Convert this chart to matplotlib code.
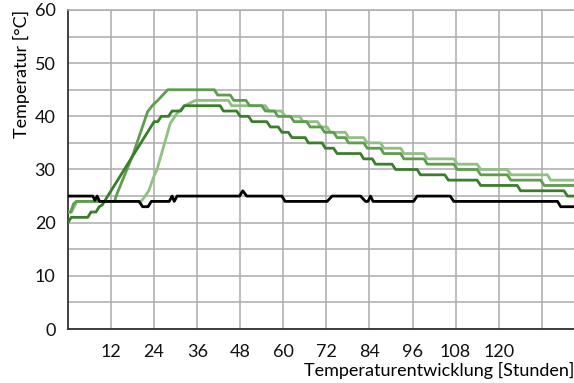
import matplotlib
matplotlib.use("Agg")
import matplotlib.pyplot as plt

plt.rcParams['font.family'] = ['Lato', 'DejaVu Sans']

# Ambient (black)
amb_h = [0, 6.9, 7.5, 8.1, 8.8, 19.8, 20.8, 22.3, 23.2, 28.2, 29.0, 29.6, 30.4, 47.8, 48.7, 49.8,
         59.6, 60.5, 72.2, 73.6, 81.5, 82.9, 83.6, 84.3, 85.0, 96.3, 97.3, 106.5, 107.5, 136.4, 137.3, 141]
amb_t = [25, 25, 24.2, 25, 24, 24, 23, 23, 24, 24, 25, 24, 25, 25, 26, 25,
         25, 24, 24, 25, 25, 24, 24, 25, 24, 24, 25, 25, 24, 24, 23, 23]

# Dark green
dark_h = [0, 0.9, 5.5, 6.4, 7.8, 8.7, 9.5, 24.0, 25.0, 26.0, 28.0, 29.0, 31.4, 32.4, 42.4, 43.3, 47.0,
          48.0, 50.3, 51.3, 55.4, 56.4, 58.6, 59.6, 61.4, 62.4, 66.1, 67.0, 70.8, 71.7, 74.0, 75.0,
          81.5, 82.4, 84.8, 85.7, 90.3, 91.3, 97.3, 98.2, 105.0, 106.0, 114.0, 115.0, 125.2, 126.1,
          138.2, 139.2, 141]
dark_t = [20, 21, 21, 22, 22, 23, 23.3, 39, 39, 40, 40, 41, 41, 42, 42, 41, 41,
          40, 40, 39, 39, 38, 38, 37, 37, 36, 36, 35, 35, 34, 34, 33,
          33, 32, 32, 31, 31, 30, 30, 29, 29, 28, 28, 27, 27, 26,
          26, 25, 25]

# Medium green
med_h = [0, 0.8, 1.5, 2.3, 13.0, 13.4, 18.05, 22.2, 23.6, 25.0, 26.4, 27.8, 40.8, 41.7, 45.2, 46.2,
         49.6, 50.6, 54.0, 55.0, 57.5, 58.5, 62.0, 63.0, 66.5, 67.5, 70.5, 71.5, 74.0, 75.0, 77.3,
         78.2, 82.4, 83.4, 87.1, 88.0, 92.7, 93.6, 99.2, 100.1, 107.5, 108.5, 114.0, 115.0, 122.4,
         123.4, 131.7, 132.7, 141]
med_t = [22, 22, 23.5, 24, 24, 25, 32.7, 40.9, 42.1, 43, 44, 45, 45, 44, 44, 43,
         43, 42, 42, 41, 41, 40, 40, 39, 39, 38, 38, 37, 37, 36, 36,
         35, 35, 34, 34, 33, 33, 32, 32, 31, 31, 30, 30, 29, 29,
         28, 28, 27, 27]

# Light green
lig_h = [0, 1.0, 2.5, 20.4, 21.5, 22.5, 24.1, 24.8, 28.5, 30.1, 31.0, 32.5, 34.0, 35.5, 44.7, 45.6,
         55.0, 56.0, 59.5, 60.5, 64.5, 65.5, 69.5, 70.5, 72.2, 73.1, 77.3, 78.2, 82.4, 83.4, 87.1,
         88.0, 92.7, 93.6, 99.2, 100.1, 107.5, 108.5, 114.0, 115.0, 122.4, 123.4, 133.6, 134.5, 141]
lig_t = [22, 22, 24, 24, 25, 26, 29, 30, 38.7, 40.3, 41, 42, 42.5, 43, 43, 42,
         42, 41, 41, 40, 40, 39, 39, 38, 38, 37, 37, 36, 36, 35, 35,
         34, 34, 33, 33, 32, 32, 31, 31, 30, 30, 29, 29, 28, 28]

x_ticks = [12, 24, 36, 48, 60, 72, 84, 96, 108, 120, 132]
x_labels = ['12', '24', '36', '48', '60', '72', '84', '96', '108', '120', '']
y_ticks = [0, 10, 20, 30, 40, 50, 60]

FS = 13

fig = plt.figure(figsize=(5.74, 3.83), dpi=100)
ax = fig.add_axes([68 / 574, 54 / 383, 506 / 574, 319 / 383])

ax.plot(lig_h, lig_t, color='#8fc081', lw=2.0, solid_joinstyle='round', zorder=3)
ax.plot(med_h, med_t, color='#5e9c4e', lw=2.0, solid_joinstyle='round', zorder=4)
ax.plot(dark_h, dark_t, color='#3a7e2c', lw=2.0, solid_joinstyle='round', zorder=5)
ax.plot(amb_h, amb_t, color='#000000', lw=2.0, solid_joinstyle='round', zorder=6)

ax.set_xlim(0, 141)
ax.set_ylim(0, 60)
ax.set_xticks(x_ticks)
ax.set_xticklabels(x_labels)
ax.set_yticks(y_ticks)
ax.set_yticks(range(5, 60, 10), minor=True)
ax.tick_params(axis='both', which='both', length=0, labelsize=FS, colors='#111111')
ax.tick_params(axis='x', pad=11)
ax.tick_params(axis='y', pad=9)

ax.grid(True, which='both', color='#ababab', lw=1.1, zorder=0)
ax.set_axisbelow(True)

for s in ['left', 'bottom']:
    ax.spines[s].set_color('#333333')
    ax.spines[s].set_linewidth(1.3)
ax.spines['right'].set_visible(False)
ax.spines['top'].set_color('#ababab')
ax.spines['top'].set_linewidth(1.1)

ax.set_ylabel('Temperatur [°C]', fontsize=FS, labelpad=3, loc='top')
ax.set_xlabel('Temperaturentwicklung [Stunden]', fontsize=FS, loc='right', labelpad=1)

fig.savefig('out.png', dpi=100)
